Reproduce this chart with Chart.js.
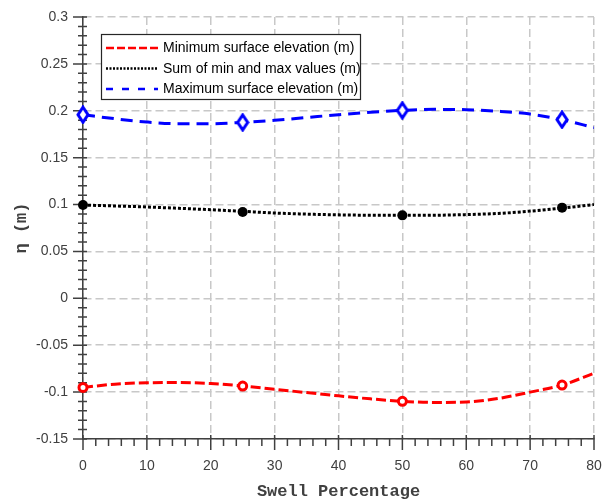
<!DOCTYPE html>
<html><head><meta charset="utf-8">
<script src="https://cdn.jsdelivr.net/npm/chart.js@4.4.0/dist/chart.umd.min.js"></script>
<style>html,body{margin:0;padding:0;background:#fff}#wrap{width:602px;height:501px}</style>
</head><body><div id="wrap"><canvas id="c" width="602" height="501"></canvas></div>
<script>
// ---- data ----
const curveX = [0,5,10,15,20,25,30,35,40,45,50,55,60,65,70,75,80];
const minCurve = [-0.0950,-0.0915,-0.0900,-0.0898,-0.0908,-0.0935,-0.0970,-0.1005,-0.1040,-0.1072,-0.1098,-0.1110,-0.1105,-0.1068,-0.1000,-0.0925,-0.0800];
const sumCurve = [0.0995,0.0985,0.0974,0.0960,0.0945,0.0928,0.0910,0.0898,0.0890,0.0886,0.0885,0.0886,0.0893,0.0905,0.0930,0.0962,0.1000];
const maxCurve = [0.1958,0.1915,0.1880,0.1862,0.1862,0.1876,0.1898,0.1928,0.1958,0.1985,0.2004,0.2015,0.2012,0.1995,0.1965,0.1905,0.1820];
const markerX = [0,25,50,75];
const minMarkers = [-0.0950,-0.0935,-0.1098,-0.0925];
const sumMarkers = [0.0995,0.0920,0.0885,0.0967];
const maxMarkers = [0.1958,0.1876,0.2004,0.1905];
const seriesNames = ['Minimum surface elevation (m)','Sum of min and max values (m)','Maximum surface elevation (m)'];
const xTitle = 'Swell Percentage';
const yTitle = '\u03B7 (m)';

const toPts = (xs, ys) => xs.map((x,i)=>({x:x, y:ys[i]}));

// diamond marker
const diamond = document.createElement('canvas');
diamond.width = 14; diamond.height = 19;
(function(){
  const g = diamond.getContext('2d');
  g.strokeStyle = '#0000ff'; g.lineWidth = 3; g.lineJoin = 'miter';
  g.beginPath(); g.moveTo(7,2); g.lineTo(12,9.5); g.lineTo(7,17); g.lineTo(2,9.5); g.closePath();
  g.fillStyle='#ffffff'; g.fill(); g.stroke();
})();

const styles = [
  {color:'#ff0000', dash:[10,4], legendDash:[8,3]},
  {color:'#000000', dash:[3,2], legendDash:[2,1.5]},
  {color:'#0000ff', dash:[12,7], legendDash:[7,9]}
];

const datasets = [
  {label:seriesNames[0], data:toPts(markerX,minMarkers), showLine:false, order:0, clip:false,
   pointStyle:'circle', pointRadius:4, pointBorderWidth:3, pointBorderColor:'#ff0000', pointBackgroundColor:'#ffffff', isMarker:true},
  {label:seriesNames[1], data:toPts(markerX,sumMarkers), showLine:false, order:0, clip:false,
   pointStyle:'circle', pointRadius:5, pointBorderWidth:0, pointBorderColor:'#000000', pointBackgroundColor:'#000000', isMarker:true},
  {label:seriesNames[2], data:toPts(markerX,maxMarkers), showLine:false, order:0, clip:false,
   pointStyle:diamond, pointRadius:7, isMarker:true},
  {label:seriesNames[0], data:toPts(curveX,minCurve), order:1, borderColor:styles[0].color, borderWidth:3, borderDash:styles[0].dash, pointRadius:0, tension:0.4, cubicInterpolationMode:'monotone', fill:false},
  {label:seriesNames[1], data:toPts(curveX,sumCurve), order:1, borderColor:styles[1].color, borderWidth:3, borderDash:styles[1].dash, pointRadius:0, tension:0.4, cubicInterpolationMode:'monotone', fill:false},
  {label:seriesNames[2], data:toPts(curveX,maxCurve), order:1, borderColor:styles[2].color, borderWidth:3, borderDash:styles[2].dash, pointRadius:0, tension:0.4, cubicInterpolationMode:'monotone', fill:false}
];

const tickPlugin = {
  id:'minorTicks',
  beforeDatasetsDraw(chart){
    const {ctx, chartArea:a, scales:{x,y}} = chart;
    ctx.save();
    ctx.strokeStyle = '#404040'; ctx.lineWidth = 1.5; ctx.setLineDash([]);
    ctx.beginPath();
    for (let i=0;i<=40;i++){
      const px = x.getPixelForValue(i*2);
      const major = i%5===0;
      ctx.moveTo(px, a.bottom - (major?4:1)); ctx.lineTo(px, a.bottom + (major?11:7));
    }
    for (let i=0;i<=45;i++){
      const py = y.getPixelForValue(-0.15 + i*0.01);
      const major = i%5===0;
      ctx.moveTo(a.left - (major?10:5), py); ctx.lineTo(a.left + 4, py);
    }
    ctx.stroke();
    ctx.restore();
  }
};

const legendPlugin = {
  id:'boxLegend',
  afterDraw(chart){
    const ctx = chart.ctx;
    const curves = chart.data.datasets.filter(d=>!d.isMarker);
    const bx=101, by=34, bw=259, bh=65;
    ctx.save();
    ctx.fillStyle='#ffffff'; ctx.fillRect(bx,by,bw,bh);
    ctx.strokeStyle='#262626'; ctx.lineWidth=1.2; ctx.strokeRect(bx+0.5,by+0.5,bw,bh);
    ctx.font='14px "Liberation Sans", Arial, sans-serif';
    ctx.textBaseline='middle'; ctx.textAlign='left';
    curves.forEach((d,i)=>{
      const ry = by + 14 + i*20.5;
      ctx.strokeStyle = d.borderColor; ctx.lineWidth = 2.5;
      ctx.setLineDash(styles[i].legendDash);
      ctx.beginPath(); ctx.moveTo(106,ry); ctx.lineTo(158,ry); ctx.stroke();
      ctx.setLineDash([]);
      ctx.fillStyle='#000000';
      ctx.fillText(d.label, 163, ry+0.5);
    });
    ctx.restore();
  }
};

const fmt = v => { const r = Math.round(v*100)/100; return String(r); };

new Chart(document.getElementById('c'), {
  type:'line',
  data:{datasets},
  options:{
    responsive:false, animation:false, devicePixelRatio:1,
    layout:{padding:0},
    plugins:{legend:{display:false}, tooltip:{enabled:false}},
    scales:{
      x:{type:'linear', min:0, max:80,
        ticks:{stepSize:10, color:'#404040', font:{family:'"Liberation Sans", Arial, sans-serif', size:14}, padding:19, maxRotation:0},
        grid:{color:'#c8c8c8', lineWidth:1.5, drawTicks:false},
        border:{display:true, color:'#404040', width:1.5, dash:[8,4]},
        title:{display:true, text:xTitle, color:'#404040', font:{family:'"Liberation Mono", "Courier New", monospace', size:17, weight:'bold'}, padding:{top:0,bottom:-1}},
        afterFit(s){ s.height = 62; s.paddingRight = 6; s.paddingLeft = 0; }
      },
      y:{type:'linear', min:-0.15, max:0.3,
        ticks:{stepSize:0.05, color:'#404040', font:{family:'"Liberation Sans", Arial, sans-serif', size:14}, padding:15, callback:fmt},
        grid:{color:'#c8c8c8', lineWidth:1.5, drawTicks:false},
        border:{display:true, color:'#404040', width:1.5, dash:[8,4]},
        title:{display:true, text:yTitle, color:'#404040', font:{family:'"Liberation Mono", "Courier New", monospace', size:17, weight:'bold'}, padding:{top:12,bottom:0}},
        afterFit(s){ s.width = 83; s.paddingTop = 17; s.paddingBottom = 0; }
      }
    }
  },
  plugins:[tickPlugin, legendPlugin]
});
</script>
</body></html>
